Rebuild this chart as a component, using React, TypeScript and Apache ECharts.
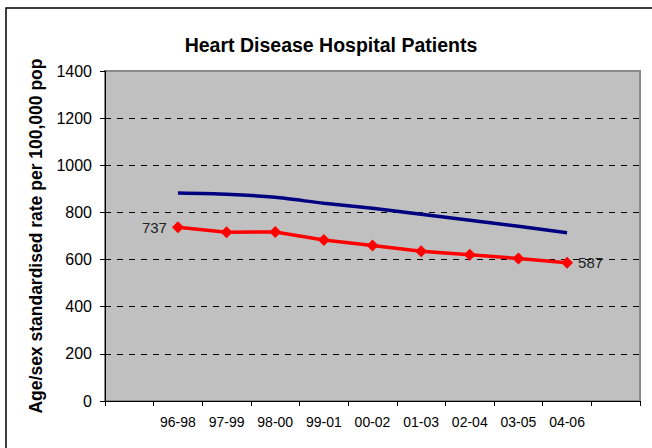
import React, { useEffect, useRef } from "react";
import * as echarts from "echarts";

const TITLE = "Heart Disease Hospital Patients";
const Y_NAME = "Age/sex standardised rate per 100,000 pop";
const categories = ["", "96-98", "97-99", "98-00", "99-01", "00-02", "01-03", "02-04", "03-05", "04-06", ""];
const redValues = [null, 737, 716, 717, 683, 660, 635, 620, 605, 587, null];
const blueValues = [null, 882, 877, 864, 839, 818, 792, 767, 741, 714, null];
const yMin = 0;
const yMax = 1400;
const yStep = 200;

const FONT = "'Liberation Sans', Arial, sans-serif";

export default function App() {
  const ref = useRef<HTMLDivElement>(null);
  useEffect(() => {
    if (!ref.current) return;
    const chart = echarts.init(ref.current, null, { renderer: "svg" });
    const firstIdx = redValues.findIndex((v) => v != null);
    let lastIdx = -1;
    redValues.forEach((v, i) => {
      if (v != null) lastIdx = i;
    });
    const redData = redValues.map((v, i) => {
      if (i === firstIdx || i === lastIdx) {
        return {
          value: v,
          label: {
            show: true,
            position: i === firstIdx ? "left" : "right",
            distance: 5,
            color: "#222",
            fontSize: 15,
            fontFamily: FONT,
          },
        };
      }
      return v;
    });
    const nLines = (yMax - yMin) / yStep + 1;
    const splitColors = Array.from({ length: nLines }, (_, i) =>
      i === 0 || i === nLines - 1 ? "rgba(0,0,0,0)" : "#000"
    );
    chart.setOption({
      animation: false,
      backgroundColor: "#ffffff",
      textStyle: { fontFamily: FONT },
      title: {
        text: TITLE,
        left: 326,
        textAlign: "center",
        top: 30,
        textStyle: { fontSize: 19.5, fontWeight: "bold", color: "#000", fontFamily: FONT },
      },
      graphic: [
        {
          type: "rect",
          shape: { x: 6, y: 8, width: 800, height: 600 },
          style: { fill: "none", stroke: "#000", lineWidth: 1.5 },
          silent: true,
        },
      ],
      grid: {
        left: 105,
        right: 12,
        top: 71,
        bottom: 47,
        show: true,
        backgroundColor: "#c0c0c0",
        borderColor: "#8a8a8a",
        borderWidth: 2,
      },
      xAxis: {
        type: "category",
        data: categories,
        boundaryGap: true,
        axisLine: { show: true, lineStyle: { color: "#000", width: 1 } },
        axisTick: { show: true, length: 5, lineStyle: { color: "#000" } },
        axisLabel: { color: "#000", fontSize: 14, margin: 14, interval: 0, fontFamily: FONT },
        splitLine: { show: false },
      },
      yAxis: {
        type: "value",
        min: yMin,
        max: yMax,
        interval: yStep,
        name: Y_NAME,
        nameLocation: "middle",
        nameGap: 60,
        nameTextStyle: { fontSize: 17.5, fontWeight: "bold", color: "#000", fontFamily: FONT },
        axisLine: { show: true, lineStyle: { color: "#000", width: 1 } },
        axisTick: { show: true, length: 5, lineStyle: { color: "#000" } },
        axisLabel: {
          color: "#000",
          fontSize: 16,
          margin: 13,
          fontFamily: FONT,
          formatter: (v: number) => String(v),
        },
        splitLine: {
          show: true,
          lineStyle: { color: splitColors, type: [6, 6], width: 1 },
        },
      },
      series: [
        {
          type: "line",
          data: blueValues,
          symbol: "none",
          smooth: 0.25,
          lineStyle: { color: "#000080", width: 3.5 },
          itemStyle: { color: "#000080" },
          connectNulls: false,
          z: 3,
        },
        {
          type: "line",
          data: redData,
          symbol: "diamond",
          symbolSize: 12,
          lineStyle: { color: "#ff0000", width: 3.5 },
          itemStyle: { color: "#ff0000" },
          connectNulls: false,
          z: 4,
        },
      ],
    });
    return () => chart.dispose();
  }, []);
  return (
    <div
      ref={ref}
      style={{ position: "absolute", left: 0, top: 0, width: 652, height: 448 }}
    />
  );
}
